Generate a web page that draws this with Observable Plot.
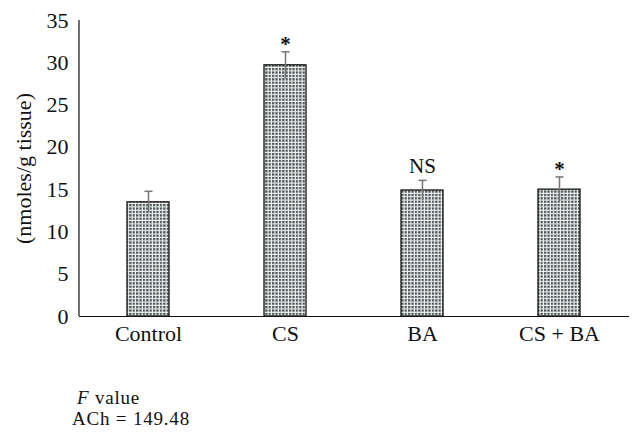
<!DOCTYPE html>
<html>
<head>
<meta charset="utf-8">
<script src="https://cdn.jsdelivr.net/npm/d3@7"></script>
<script src="https://cdn.jsdelivr.net/npm/@observablehq/plot@0.6"></script>
<style>
  body { margin: 0; background: #fff; font-family: "Liberation Serif", "Times New Roman", serif; }
  #cap { font-size: 19px; line-height: 21px; letter-spacing: 0.8px; color: #111; padding-top: 27px; }
  #cap .l1 { padding-left: 77px; }
  #cap .l2 { padding-left: 72px; }
</style>
</head>
<body>
<div id="chart"></div>
<div id="cap"><div class="l1"><i>F</i> value</div><div class="l2">ACh = 149.48</div></div>
<script>
const groups = ["Control", "CS", "BA", "CS + BA"];
const means = [13.5, 29.7, 14.9, 15.0];
const errors = [1.3, 1.6, 1.2, 1.5];
const marks = ["", "*", "NS", "*"];
const yTicks = [0, 5, 10, 15, 20, 25, 30, 35];

const data = groups.map((g, i) => ({group: g, value: means[i], err: errors[i], mark: marks[i]}));

const capSymbol = {draw(ctx, size) { ctx.moveTo(-4, 0); ctx.lineTo(4, 0); }};

const plot = Plot.plot({
  width: 643,
  height: 360,
  marginTop: 20,
  marginBottom: 44,
  marginLeft: 79,
  marginRight: 14,
  style: {fontFamily: "Liberation Serif, Times New Roman, serif", fontSize: "22px", color: "#111", background: "#fff"},
  x: {domain: groups, paddingInner: 0.69, paddingOuter: 0.345},
  y: {domain: [0, 35]},
  marks: [
    Plot.barY(data, {x: "group", y: "value", fill: "url(#gridpat)", stroke: "#111", strokeWidth: 1.3}),
    Plot.ruleX(data, {x: "group", y1: d => d.value - d.err, y2: d => d.value + d.err, stroke: "#777", strokeWidth: 1.5}),
    Plot.dot(data, {x: "group", y: d => d.value + d.err, symbol: capSymbol, stroke: "#777", strokeWidth: 1.5, r: 4}),
    Plot.text(data.filter(d => d.mark === "NS"), {x: "group", y: d => d.value + d.err, text: "mark", lineAnchor: "bottom", dy: -7, fontSize: 21, fill: "#111"}),
    Plot.text(data.filter(d => d.mark === "*"), {x: "group", y: d => d.value + d.err, text: "mark", lineAnchor: "bottom", dy: -1, fontSize: 21, fontWeight: "bold", fill: "#111"}),
    Plot.axisX({label: null, tickSize: 0, tickPadding: 9, fontSize: 22}),
    Plot.axisY({ticks: yTicks, tickSize: 0, tickPadding: 11, fontSize: 22, label: "(nmoles/g tissue)", labelAnchor: "center", labelArrow: "none", labelOffset: 64}),
    Plot.ruleY([0], {stroke: "#111", strokeWidth: 1.2}),
  ],
});

const svg = d3.select(plot);
// left axis line
svg.append("line").attr("x1", 79).attr("x2", 79).attr("y1", 20).attr("y2", 316).attr("stroke", "#111").attr("stroke-width", 1.2);

// grid pattern for bars
const defs = svg.insert("defs", ":first-child");
const pat = defs.append("pattern").attr("id", "gridpat").attr("patternUnits", "userSpaceOnUse").attr("width", 3.4).attr("height", 3.4);
pat.append("rect").attr("width", 3.4).attr("height", 3.4).attr("fill", "#f4f6f6");
pat.append("rect").attr("width", 2.3).attr("height", 2.3).attr("fill", "#4f5858");

document.getElementById("chart").appendChild(plot);
</script>
</body>
</html>
